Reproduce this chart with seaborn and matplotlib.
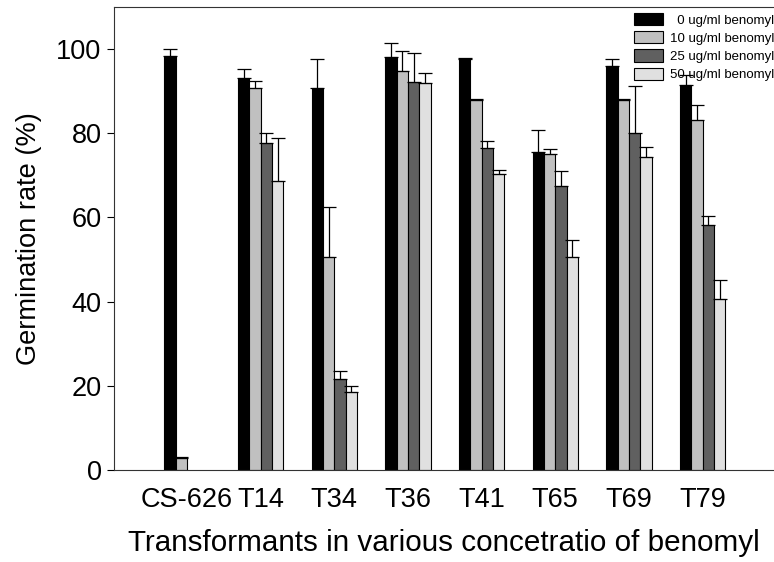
# germination rate of transformants under benomyl

import numpy as np
import pandas as pd
import seaborn as sns
import matplotlib
matplotlib.use("Agg")
import matplotlib.pyplot as plt

# datos
strains = ["CS-626", "T14", "T34", "T36", "T41", "T65", "T69", "T79"]
conc = ["0 ug/ml benomyl", "10 ug/ml benomyl", "25 ug/ml benomyl", "50 ug/ml benomyl"]

rate_0 = [98.3, 93.0, 90.7, 98.1, 97.7, 75.6, 95.9, 91.5]
err_0 = [1.6, 2.2, 6.8, 3.4, 0.2, 5.1, 1.8, 2.3]
rate_10 = [2.9, 90.7, 50.6, 94.7, 87.9, 75.0, 87.9, 83.1]
err_10 = [0.1, 1.6, 11.8, 4.7, 0.1, 1.1, 0.1, 3.5]
rate_25 = [np.nan, 77.6, 21.6, 92.2, 76.5, 67.5, 79.9, 58.1]
err_25 = [np.nan, 2.4, 2.0, 6.9, 1.5, 3.6, 11.2, 2.1]
rate_50 = [np.nan, 68.7, 18.6, 91.8, 70.3, 50.6, 74.2, 40.6]
err_50 = [np.nan, 10.2, 1.4, 2.5, 1.0, 3.9, 2.4, 4.5]

colors = ["#000000", "#c0c0c0", "#606060", "#e0e0e0"]

rates = [rate_0, rate_10, rate_25, rate_50]
errs = [err_0, err_10, err_25, err_50]

rows = []
for c, r, e in zip(conc, rates, errs):
    for s, v, ev in zip(strains, r, e):
        rows.append({"strain": s, "conc": c, "rate": v, "err": ev})
df = pd.DataFrame(rows).dropna()

sns.set_style("ticks")
plt.rcParams["font.family"] = ["Liberation Sans", "DejaVu Sans"]
plt.rcParams["text.color"] = "black"
plt.rcParams["axes.labelcolor"] = "black"
plt.rcParams["xtick.color"] = "black"
plt.rcParams["ytick.color"] = "black"

fig = plt.figure(figsize=(7.74, 5.62), dpi=100)
ax = fig.add_axes([114 / 774, 92 / 562, 1 - 114 / 774, 463.3 / 562])

sns.barplot(data=df, x="strain", y="rate", hue="conc",
            order=strains, hue_order=conc,
            palette=dict(zip(conc, colors)),
            width=0.615, edgecolor="black", linewidth=0.8,
            errorbar=None, saturation=1, ax=ax)

# barras de error solo hacia arriba
for cont, c in zip(ax.containers, conc):
    sub = df[df["conc"] == c].set_index("strain")
    for bar in cont:
        xc = bar.get_x() + bar.get_width() / 2
        s = strains[int(round(xc))]
        h = bar.get_height()
        ax.errorbar(xc, h, yerr=[[0], [sub.loc[s, "err"]]], fmt="none",
                    ecolor="black", elinewidth=0.9, capsize=4.7,
                    capthick=0.9)

ax.set_xlim(-0.99, 7.97)
ax.set_ylim(0, 110)
ax.set_yticks([0, 20, 40, 60, 80, 100])
ax.tick_params(axis="y", direction="out", length=5, width=0.8, pad=4, labelsize=19.5)
ax.tick_params(axis="x", length=0, pad=12, labelsize=19.5)
for sp in ["left", "bottom", "top"]:
    ax.spines[sp].set_visible(True)
    ax.spines[sp].set_linewidth(0.8)
    ax.spines[sp].set_color("#333333")
ax.spines["right"].set_visible(False)

ax.set_xlabel("Transformants in various concetratio of benomyl", fontsize=21.3, labelpad=12)
ax.set_ylabel("Germination rate (%)", fontsize=19.6, labelpad=10)

handles, labels = ax.get_legend_handles_labels()
labels = ["  0 ug/ml benomyl", "10 ug/ml benomyl", "25 ug/ml benomyl", "50 ug/ml benomyl"]
ax.legend(handles, labels, loc="upper left",
          bbox_to_anchor=(634 / 774, 1 - 13 / 562), bbox_transform=fig.transFigure,
          frameon=False, fontsize=9.5, borderpad=0, borderaxespad=0,
          handlelength=2.2, handleheight=1.05, handletextpad=0.5, labelspacing=0.35)

fig.savefig("out.png", dpi=100)
